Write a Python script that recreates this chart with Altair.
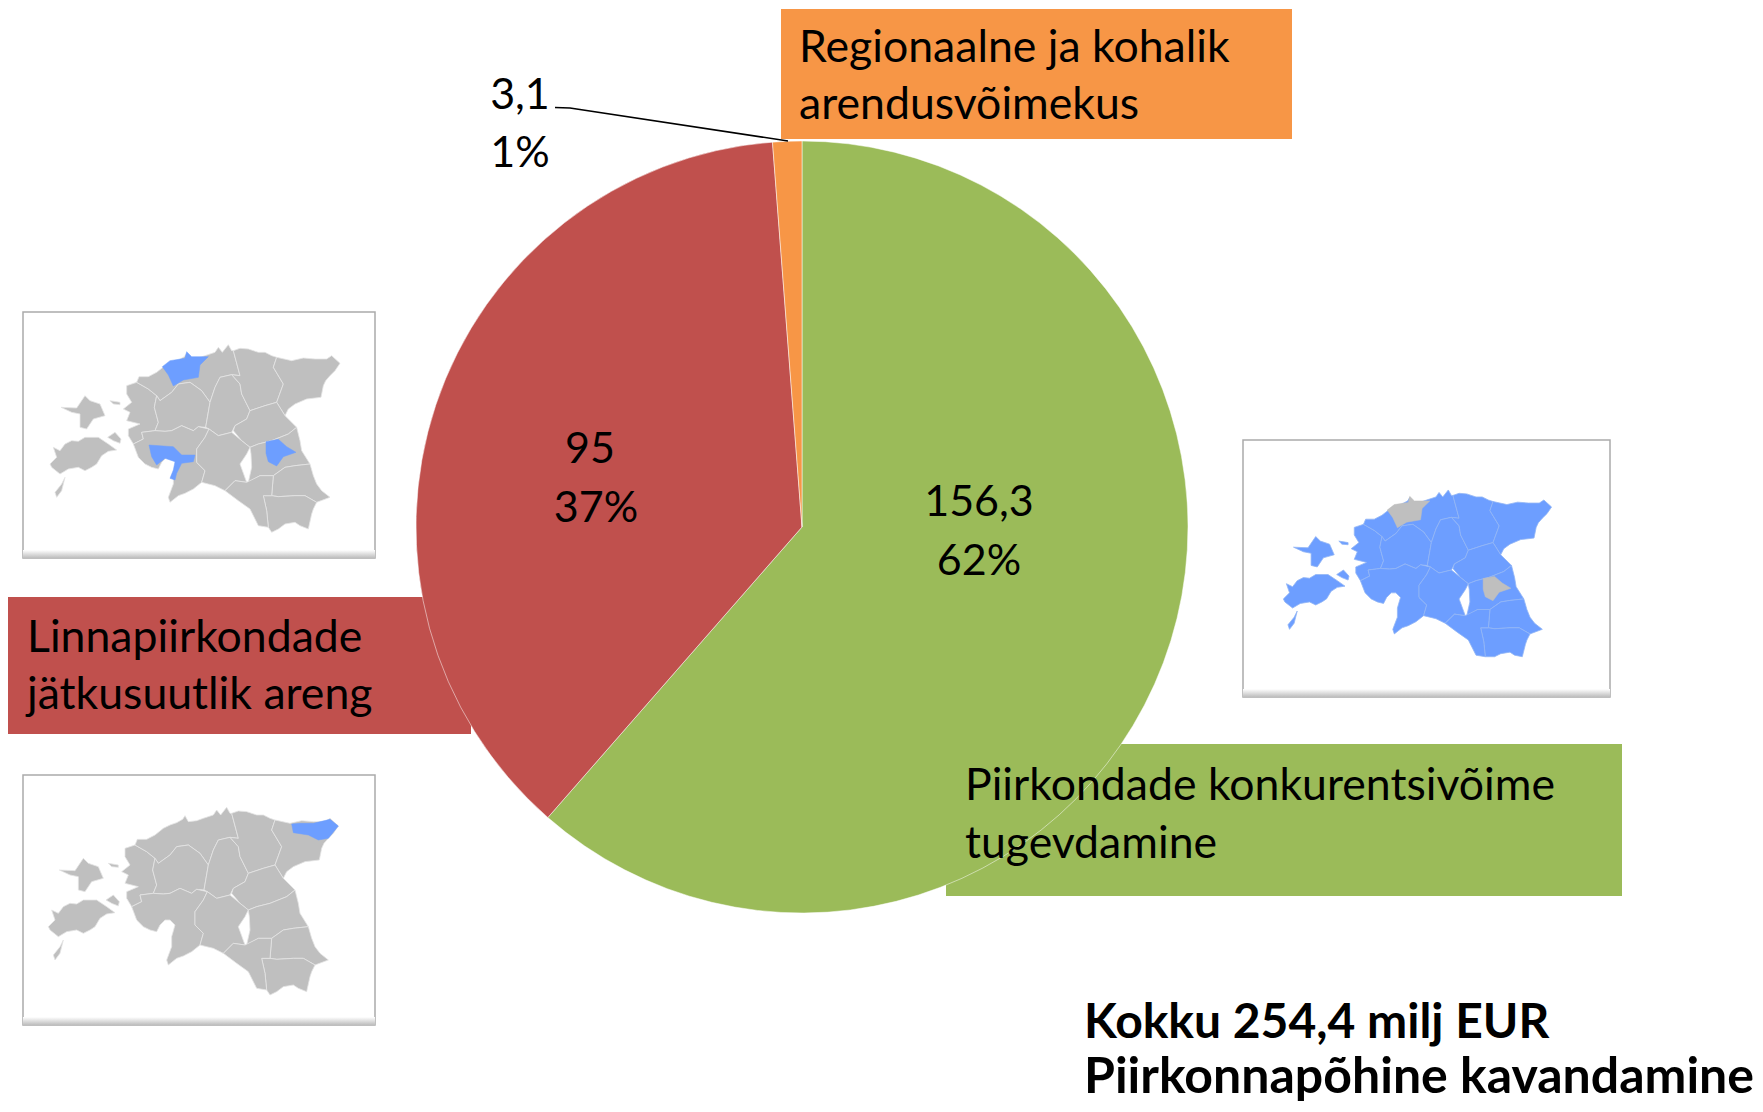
import altair as alt
import pandas as pd

# ---------- pie data ----------
labels = ["Piirkondade konkurentsivõime tugevdamine", "Linnapiirkondade jätkusuutlik areng", "Regionaalne ja kohalik arendusvõimekus"]
values = [156.3, 95.0, 3.1]
colors = ["#9BBB59", "#C0504D", "#F79646"]
order = [1, 2, 3]

# ---------- annotation data ----------
box_x = [781, 8, 946]
box_x2 = [1292, 471, 1622]
box_y = [9, 597, 744]
box_y2 = [139, 734, 896]
box_fill = ["#F79646", "#C0504D", "#9BBB59"]

text_items = ["Regionaalne ja kohalik", "arendusvõimekus", "Linnapiirkondade", "jätkusuutlik areng",
              "Piirkondade konkurentsivõime", "tugevdamine"]
text_x = [799, 799, 27, 27, 965, 965]
text_y = [49, 106, 639, 696, 787, 845]

value_items = ["3,1", "1%", "95", "37%", "156,3", "62%"]
value_x = [520, 520, 590, 596, 979, 979]
value_y = [96, 154, 450, 509, 503, 562]

bold_items = ["Kokku 254,4 milj EUR", "Piirkonnapõhine kavandamine"]
bold_x = [1084, 1084]
bold_y = [1024, 1078]
bold_size = [48, 50]

leader_x = [555, 570, 788]
leader_y = [107.5, 108, 141]

card_x = [23, 23, 1243]
card_x2 = [375, 375, 1610]
card_y = [312, 775, 440]
card_y2 = [558, 1025, 697]

# ---------- map regions (traced units) ----------
regions = {
 "Laane": [(375,295),(405,285),(440,305),(465,325),(458,360),(470,405),(460,430),(420,435),(425,455),(395,470),(380,445),(380,425),(415,410),(375,400),(385,375),(365,365),(390,345),(375,320)],
 "Harju": [(405,285),(412,268),(440,268),(465,255),(490,235),(510,225),(530,218),(548,208),(555,197),(565,215),(590,212),(610,205),(640,195),(650,180),(662,195),(680,172),(690,190),(695,190),(715,265),(690,262),(655,270),(640,300),(625,345),(600,310),(565,285),(530,290),(510,315),(475,340),(465,325),(440,305)],
 "Rapla": [(465,325),(475,340),(510,315),(530,290),(565,285),(600,310),(625,345),(612,420),(590,418),(575,430),(540,415),(510,430),(490,432),(460,430),(470,405),(458,360)],
 "Jarva": [(640,300),(655,270),(690,262),(715,290),(720,320),(745,370),(735,395),(700,415),(690,435),(650,445),(622,425),(612,420),(625,345)],
 "LaaneViru": [(695,190),(715,183),(740,185),(770,195),(790,195),(810,205),(825,210),(815,240),(845,290),(825,345),(790,355),(745,370),(720,320),(715,290),(690,262),(715,265)],
 "IdaViru": [(825,210),(870,220),(905,212),(940,215),(975,215),(990,205),(1015,228),(1000,250),(985,265),(972,280),(965,295),(958,330),(915,335),(880,350),(860,365),(850,385),(825,345),(845,290),(815,240)],
 "Jogeva": [(745,370),(790,355),(825,345),(850,385),(885,420),(860,440),(810,460),(770,470),(745,480),(720,460),(695,430),(700,415),(735,395)],
 "Parnu": [(420,435),(460,430),(490,432),(510,430),(540,415),(575,430),(590,418),(622,425),(610,450),(585,485),(585,525),(610,550),(600,585),(575,605),(550,618),(530,625),(505,645),(500,630),(515,590),(515,560),(525,525),(510,510),(495,510),(480,525),(470,545),(450,540),(430,530),(410,510),(395,470),(425,455)],
 "Viljandi": [(622,425),(650,445),(690,435),(720,460),(745,480),(735,500),(715,530),(735,585),(700,580),(670,610),(640,595),(620,590),(600,585),(610,550),(585,525),(585,485),(610,450)],
 "Tartu": [(745,480),(770,470),(810,460),(860,440),(885,420),(895,460),(900,490),(925,530),(880,535),(850,540),(815,565),(775,565),(740,585),(750,540),(748,500)],
 "Polva": [(815,565),(850,540),(880,535),(925,530),(935,565),(945,590),(960,610),(985,630),(945,645),(910,625),(880,625),(830,628),(810,625)],
 "Voru": [(785,625),(810,625),(830,628),(880,625),(910,625),(945,645),(935,665),(930,680),(920,725),(895,715),(880,705),(850,710),(830,725),(810,735),(800,720),(795,670)],
 "Valga": [(670,610),(700,580),(735,585),(775,565),(815,565),(810,625),(785,625),(795,670),(800,720),(770,715),(745,665),(710,640)],
 "Saare": [(145,530),(165,510),(155,480),(175,490),(190,470),(210,460),(230,462),(250,450),(290,450),(320,470),(345,488),(320,492),(300,505),(285,530),(270,540),(250,550),(230,540),(200,545),(175,560),(150,540)],
 "SaareTail": [(190,570),(180,610),(165,630),(160,615),(180,590)],
 "Hiiu": [(178,360),(225,362),(250,325),(265,340),(295,350),(310,385),(275,395),(255,425),(235,420),(235,380),(210,375)],
 "Muhu": [(318,450),(340,435),(358,455),(355,468),(335,460)],
 "Vormsi": [(325,340),(355,345),(355,352),(335,350)],
}
hl_tallinn = [(482,238),(505,220),(550,213),(555,193),(570,208),(620,208),(595,233),(590,270),(545,278),(515,296),(500,263)]
hl_parnu = [(442,473),(485,476),(515,478),(540,503),(580,503),(575,523),(540,528),(525,558),(520,578),(505,573),(515,548),(520,523),(490,513),(465,533),(450,508)]
hl_tartu = [(793,463),(830,456),(855,478),(883,495),(845,508),(825,536),(800,523),(793,498)]
hl_narva = [(875,222),(900,220),(940,220),(990,208),(1015,228),(985,265),(955,270),(925,255),(880,248)]

def map_a(p):  # upper-left inset
    return ((p[0] + 5) / 3, (p[1] - 8) / 3 + 290)

def map_b(p):  # right inset
    y = min(p[1], 720)
    return ((190 + 0.925 * (p[0] - 145)) / 3 + 1220, (240 + 0.913 * (y - 205)) / 3 + 420)

def map_c(p):  # lower-left inset
    return (p[0] / 3, p[1] / 3 + 750)

def feat(poly, fn):
    pts = [list(fn(p)) for p in poly]
    pts.append(pts[0])
    return {"type": "Feature", "properties": {}, "geometry": {"type": "Polygon", "coordinates": [pts]}}

GRAY, BLUE = "#BFBFBF", "#6D9EFF"

def geo(feats, fill, stroke, sw=0.8):
    return alt.Chart(alt.InlineData(values=feats, format=alt.DataFormat(type="json"))).mark_geoshape(
        fill=fill, stroke=stroke, strokeWidth=sw).project(type="identity", scale=1, translate=[-8, -8])

X = alt.Scale(domain=[8, 1755], range=[0, 1747])
Y = alt.Scale(domain=[8, 1104], range=[0, 1096])

def rect_layer(df, fill=None, **kw):
    enc = dict(x=alt.X("x:Q", scale=X, axis=None), x2="x2:Q",
               y=alt.Y("y:Q", scale=Y, axis=None), y2="y2:Q")
    if fill is None:
        enc["color"] = alt.Color("fill:N", scale=None)
        return alt.Chart(df).mark_rect(**kw).encode(**enc)
    return alt.Chart(df).mark_rect(fill=fill, **kw).encode(**enc)

def text_layer(items, xs, ys, **kw):
    df = pd.DataFrame({"t": items, "x": xs, "y": ys})
    return alt.Chart(df).mark_text(font="Lato", baseline="middle", color="#000000", **kw).encode(
        x=alt.X("x:Q", scale=X, axis=None), y=alt.Y("y:Q", scale=Y, axis=None), text="t:N")

# boxes
boxes = rect_layer(pd.DataFrame({"x": box_x, "x2": box_x2, "y": box_y, "y2": box_y2, "fill": box_fill}))

# pie
pie_df = pd.DataFrame({"label": labels, "value": values, "fill": colors, "o": order})
pie = alt.Chart(pie_df).mark_arc(outerRadius=386, stroke="#FFFFFF", strokeWidth=0.5).encode(
    theta=alt.Theta("value:Q", stack=True),
    order=alt.Order("o:Q"),
    color=alt.Color("fill:N", scale=None),
    x=alt.value(794), y=alt.value(519),
)

# cards with a bevelled edge
cards_df = pd.DataFrame({"x": card_x, "x2": card_x2, "y": card_y, "y2": card_y2})
card_outer = rect_layer(cards_df, fill="#FFFFFF", stroke="#ABABAB", strokeWidth=1.5)
band_df = pd.DataFrame({"x": card_x, "x2": card_x2, "y": [v - 8 for v in card_y2], "y2": card_y2})
vgrad = alt.LinearGradient(gradient="linear", x1=0, x2=0, y1=0, y2=1,
                           stops=[alt.GradientStop(offset=0, color="#FFFFFF"),
                                  alt.GradientStop(offset=1, color="#BDBDBD")])
card_band = rect_layer(band_df, fill=vgrad)

all_regions = list(regions.values())
maps = [
    geo([feat(r, map_a) for r in all_regions], GRAY, "#E4E4E4"),
    geo([feat(r, map_a) for r in (hl_tallinn, hl_parnu, hl_tartu)], BLUE, BLUE, 0.5),
    geo([feat(r, map_b) for r in all_regions], BLUE, "#93B6F5"),
    geo([feat(r, map_b) for r in (hl_tallinn, hl_tartu)], GRAY, GRAY, 0.5),
    geo([feat(r, map_c) for r in all_regions], GRAY, "#E4E4E4"),
    geo([feat(r, map_c) for r in (hl_narva,)], BLUE, BLUE, 0.5),
]

leader = alt.Chart(pd.DataFrame({"x": leader_x, "y": leader_y, "i": [0, 1, 2]})).mark_line(
    color="#000000", strokeWidth=1.5).encode(
    x=alt.X("x:Q", scale=X, axis=None), y=alt.Y("y:Q", scale=Y, axis=None), order="i:Q")

chart = alt.layer(
    boxes, pie, card_outer, card_band, *maps, leader,
    text_layer(text_items, text_x, text_y, fontSize=44.6, align="left"),
    text_layer(value_items, value_x, value_y, fontSize=43, align="center"),
    text_layer(bold_items[:1], bold_x[:1], bold_y[:1], fontSize=bold_size[0], align="left", fontWeight="bold"),
    text_layer(bold_items[1:], bold_x[1:], bold_y[1:], fontSize=bold_size[1], align="left", fontWeight="bold"),
).properties(width=1747, height=1096, padding=0,
             autosize=alt.AutoSizeParams(type="none"), background="#FFFFFF"
).configure_view(stroke=None)

chart.save("out.html", embed_options={"renderer": "svg", "actions": False})
